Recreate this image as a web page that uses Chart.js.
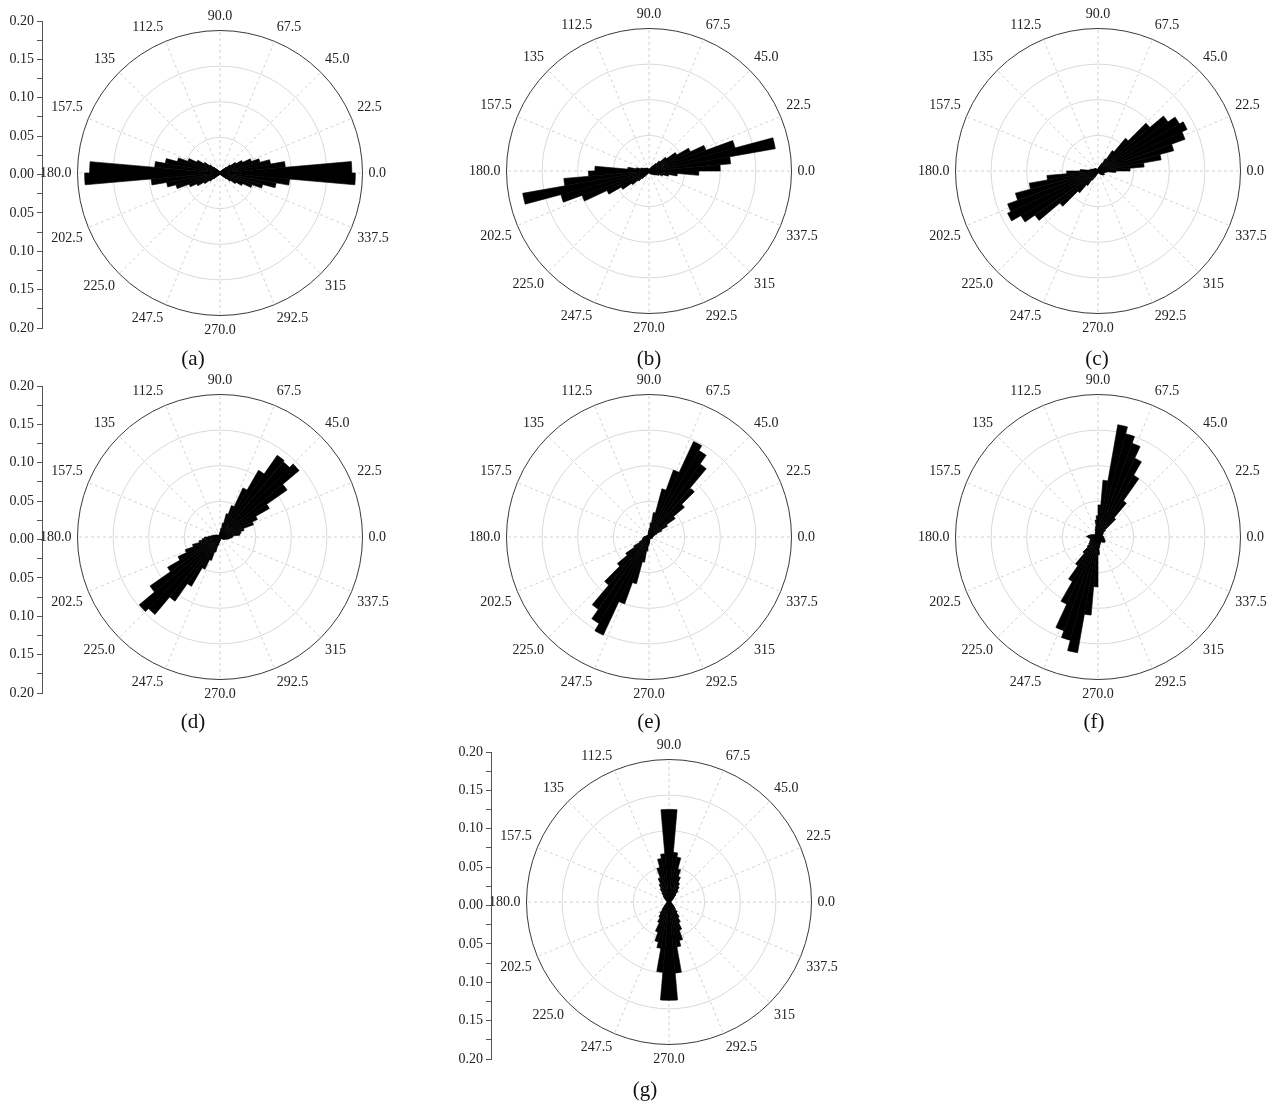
<!DOCTYPE html>
<html>
<head>
<meta charset="utf-8">
<title>Rose diagrams</title>
<script src="https://cdn.jsdelivr.net/npm/chart.js@4.4.1/dist/chart.umd.min.js"></script>
<style>
  body { margin: 0; background: #fff; }
  #page { position: relative; width: 1269px; height: 1101px; overflow: hidden; }
  #page canvas { position: absolute; }
  .caption {
    position: absolute;
    font: 21px 'Liberation Serif', 'Times New Roman', serif;
    line-height: 1;
    color: #111;
    transform: translate(-50%, -50%);
  }
</style>
</head>
<body>
<div id="page"></div>
<script>
// direction labels, anticlockwise from east
const directionLabels = ['0.0', '22.5', '45.0', '67.5', '90.0', '112.5', '135', '157.5',
                         '180.0', '202.5', '225.0', '247.5', '270.0', '292.5', '315', '337.5'];

// relative frequency in 5 degree bins, bin k covers [5k, 5k+5) anticlockwise from 0
const binsA = [
  0.185, 0.092, 0.072, 0.058, 0.047, 0.035, 0.026, 0.018, 0.012, 0.008, 0.006, 0.004,
  0.003, 0.002, 0.002, 0.002, 0.002, 0.002, 0.002, 0.002, 0.002, 0.002, 0.003, 0.003,
  0.004, 0.006, 0.008, 0.012, 0.018, 0.026, 0.036, 0.048, 0.062, 0.078, 0.092, 0.183,
  0.190, 0.097, 0.076, 0.064, 0.046, 0.036, 0.026, 0.018, 0.012, 0.008, 0.005, 0.004,
  0.003, 0.002, 0.002, 0.002, 0.002, 0.002, 0.002, 0.002, 0.002, 0.002, 0.003, 0.003,
  0.004, 0.006, 0.008, 0.012, 0.018, 0.026, 0.035, 0.048, 0.062, 0.080, 0.098, 0.190
];
const binsB = [
  0.100, 0.115, 0.180, 0.125, 0.085, 0.064, 0.045, 0.030, 0.020, 0.014, 0.010, 0.007,
  0.005, 0.004, 0.003, 0.003, 0.002, 0.002, 0.002, 0.002, 0.003, 0.003, 0.004, 0.005,
  0.004, 0.005, 0.005, 0.006, 0.006, 0.007, 0.008, 0.010, 0.012, 0.018, 0.030, 0.076,
  0.085, 0.120, 0.180, 0.128, 0.100, 0.065, 0.045, 0.030, 0.020, 0.014, 0.010, 0.007,
  0.005, 0.004, 0.003, 0.003, 0.002, 0.002, 0.002, 0.002, 0.003, 0.003, 0.004, 0.005,
  0.005, 0.006, 0.006, 0.007, 0.008, 0.010, 0.012, 0.015, 0.020, 0.028, 0.040, 0.070
];
const binsC = [
  0.045, 0.065, 0.090, 0.110, 0.130, 0.138, 0.132, 0.120, 0.095, 0.060, 0.035, 0.020,
  0.012, 0.009, 0.007, 0.005, 0.004, 0.003, 0.003, 0.002, 0.002, 0.002, 0.002, 0.003,
  0.003, 0.004, 0.004, 0.005, 0.005, 0.006, 0.006, 0.007, 0.008, 0.010, 0.012, 0.025,
  0.044, 0.072, 0.098, 0.120, 0.135, 0.140, 0.125, 0.108, 0.070, 0.040, 0.025, 0.015,
  0.010, 0.007, 0.005, 0.004, 0.003, 0.003, 0.002, 0.002, 0.002, 0.003, 0.003, 0.004,
  0.005, 0.006, 0.007, 0.008, 0.009, 0.010, 0.010, 0.009, 0.008, 0.010, 0.012, 0.025
];
const binsD = [
  0.018, 0.028, 0.030, 0.035, 0.050, 0.058, 0.080, 0.115, 0.145, 0.138, 0.140, 0.108,
  0.076, 0.047, 0.034, 0.020, 0.012, 0.008, 0.006, 0.005, 0.004, 0.003, 0.003, 0.002,
  0.002, 0.002, 0.003, 0.003, 0.004, 0.005, 0.006, 0.007, 0.008, 0.010, 0.012, 0.016,
  0.022, 0.025, 0.030, 0.040, 0.052, 0.065, 0.085, 0.120, 0.148, 0.142, 0.110, 0.080,
  0.050, 0.035, 0.022, 0.012, 0.008, 0.006, 0.005, 0.004, 0.003, 0.003, 0.002, 0.002,
  0.002, 0.003, 0.003, 0.004, 0.005, 0.006, 0.007, 0.008, 0.010, 0.012, 0.014, 0.017
];
const binsE = [
  0.005, 0.006, 0.007, 0.008, 0.012, 0.020, 0.030, 0.045, 0.065, 0.090, 0.125, 0.140,
  0.148, 0.100, 0.070, 0.035, 0.020, 0.012, 0.009, 0.007, 0.005, 0.004, 0.003, 0.003,
  0.002, 0.002, 0.002, 0.002, 0.003, 0.003, 0.003, 0.004, 0.004, 0.005, 0.006, 0.007,
  0.008, 0.008, 0.009, 0.010, 0.010, 0.015, 0.025, 0.040, 0.058, 0.088, 0.124, 0.140,
  0.152, 0.100, 0.068, 0.036, 0.020, 0.012, 0.009, 0.007, 0.005, 0.004, 0.003, 0.003,
  0.002, 0.002, 0.002, 0.003, 0.003, 0.003, 0.004, 0.004, 0.005, 0.005, 0.005, 0.005
];
const binsF = [
  0.008, 0.007, 0.006, 0.006, 0.007, 0.008, 0.008, 0.010, 0.014, 0.035, 0.062, 0.100,
  0.122, 0.140, 0.150, 0.160, 0.080, 0.045, 0.030, 0.024, 0.015, 0.012, 0.010, 0.008,
  0.007, 0.006, 0.006, 0.005, 0.005, 0.006, 0.007, 0.008, 0.010, 0.012, 0.014, 0.016,
  0.014, 0.012, 0.011, 0.011, 0.012, 0.013, 0.014, 0.016, 0.020, 0.030, 0.049, 0.072,
  0.104, 0.140, 0.150, 0.165, 0.110, 0.070, 0.025, 0.015, 0.012, 0.010, 0.009, 0.008,
  0.008, 0.009, 0.010, 0.011, 0.012, 0.012, 0.011, 0.010, 0.009, 0.009, 0.008, 0.008
];
const binsG = [
  0.002, 0.002, 0.003, 0.003, 0.004, 0.005, 0.006, 0.008, 0.010, 0.014, 0.020, 0.025,
  0.030, 0.038, 0.048, 0.064, 0.070, 0.130, 0.130, 0.068, 0.062, 0.050, 0.036, 0.028,
  0.022, 0.016, 0.012, 0.010, 0.008, 0.006, 0.005, 0.004, 0.003, 0.003, 0.002, 0.002,
  0.002, 0.002, 0.003, 0.003, 0.004, 0.005, 0.006, 0.008, 0.010, 0.014, 0.020, 0.025,
  0.032, 0.045, 0.058, 0.066, 0.099, 0.138, 0.138, 0.100, 0.064, 0.056, 0.042, 0.032,
  0.025, 0.018, 0.013, 0.010, 0.008, 0.006, 0.005, 0.004, 0.003, 0.003, 0.002, 0.002
];

// where each rose sits on the page; axisTop only for the ones with a radial scale bar
const panels = [
  { caption: '(a)', bins: binsA, cx: 220,  cy: 173, capX: 193,  capY: 358,  axisTop: 21 },
  { caption: '(b)', bins: binsB, cx: 649,  cy: 171, capX: 649,  capY: 358 },
  { caption: '(c)', bins: binsC, cx: 1098, cy: 171, capX: 1097, capY: 358 },
  { caption: '(d)', bins: binsD, cx: 220,  cy: 537, capX: 193,  capY: 721,  axisTop: 386 },
  { caption: '(e)', bins: binsE, cx: 649,  cy: 537, capX: 649,  capY: 721 },
  { caption: '(f)', bins: binsF, cx: 1098, cy: 537, capX: 1094, capY: 721 },
  { caption: '(g)', bins: binsG, cx: 669,  cy: 902, capX: 645,  capY: 1089, axisTop: 752 }
];

const SERIF = "'Liberation Serif', 'Times New Roman', serif";
const RADIUS = 142;      // pixel radius of the 0.20 ring
const AXIS_GAP = 178;    // scale bar sits this far left of the centre
const AXIS_LEN = 307;

const page = document.getElementById('page');

// Chart.js walks clockwise; with startAngle 90 and the bins reversed, 0 sits at east
// and angles grow anticlockwise, so the ring labels are listed clockwise from east too
const ringLabels = directionLabels.map((_, i) => directionLabels[(16 - i) % 16]);

function makeCanvas(w, h) {
  const canvas = document.createElement('canvas');
  canvas.width = w;
  canvas.height = h;
  page.appendChild(canvas);
  return canvas;
}

function drawAxis(p) {
  const canvas = makeCanvas(70, AXIS_LEN + 24);
  const chart = new Chart(canvas, {
    type: 'scatter',
    data: { datasets: [] },
    options: {
      responsive: false,
      animation: false,
      layout: { padding: { top: 12, bottom: 12, left: 0, right: 0 } },
      plugins: { legend: { display: false }, tooltip: { enabled: false } },
      scales: {
        x: { display: false },
        y: {
          min: -0.2,
          max: 0.2,
          border: { color: '#555', width: 1 },
          grid: { drawOnChartArea: false, tickLength: 5, color: '#555' },
          ticks: {
            stepSize: 0.025,
            autoSkip: false,
            padding: 3,
            color: '#222',
            font: { family: SERIF, size: 14 },
            // labels every 0.05, bare ticks in between; both halves read upwards from 0
            callback: v => Math.abs(Math.round(v / 0.025)) % 2 === 0 ? Math.abs(v).toFixed(2) : ''
          }
        }
      }
    }
  });
  const y = chart.scales.y;
  canvas.style.left = (p.cx - AXIS_GAP - y.right) + 'px';
  canvas.style.top = (p.axisTop - y.top) + 'px';
}

function drawRose(p) {
  const canvas = makeCanvas(360, 360);
  const chart = new Chart(canvas, {
    type: 'polarArea',
    data: {
      labels: ringLabels,
      datasets: [{
        data: p.bins.slice().reverse(),
        backgroundColor: '#000',
        borderColor: '#000',
        borderWidth: 0.6
      }]
    },
    options: {
      responsive: false,
      animation: false,
      layout: { padding: 0 },
      plugins: { legend: { display: false }, tooltip: { enabled: false } },
      scales: {
        r: {
          min: 0,
          max: 0.2,
          startAngle: 90,
          ticks: { display: false, stepSize: 0.05 },
          grid: {
            circular: true,
            lineWidth: 1,
            color: ctx => (ctx.tick && ctx.tick.value > 0.199) ? '#3a3a3a' : '#d9d9d9'
          },
          angleLines: { display: true, color: '#d2d2d2', lineWidth: 1, borderDash: [3, 3] },
          pointLabels: { display: true, padding: 6, color: '#222', font: { family: SERIF, size: 14 } }
        }
      }
    }
  });

  // point labels eat into the canvas, so grow it until the outer ring has the wanted radius
  for (let pass = 0; pass < 4; pass++) {
    const diff = RADIUS - chart.scales.r.drawingArea;
    if (!diff) break;
    const size = chart.width + 2 * diff;
    chart.resize(size, size);
  }
  const r = chart.scales.r;
  canvas.style.left = (p.cx - r.xCenter) + 'px';
  canvas.style.top = (p.cy - r.yCenter) + 'px';
}

function addCaption(p) {
  const el = document.createElement('div');
  el.className = 'caption';
  el.textContent = p.caption;
  el.style.left = p.capX + 'px';
  el.style.top = p.capY + 'px';
  page.appendChild(el);
}

panels.forEach(p => {
  if (p.axisTop !== undefined) drawAxis(p);
  drawRose(p);
  addCaption(p);
});
</script>
</body>
</html>
